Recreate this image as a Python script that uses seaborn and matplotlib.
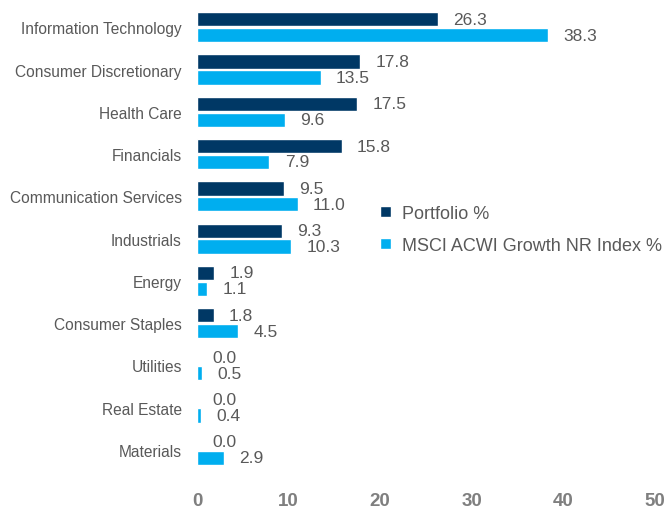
import pandas as pd
import seaborn as sns
import matplotlib.pyplot as plt

# sector weights
sectors = ['Information Technology', 'Consumer Discretionary', 'Health Care', 'Financials',
           'Communication Services', 'Industrials', 'Energy', 'Consumer Staples',
           'Utilities', 'Real Estate', 'Materials']
portfolio = [26.3, 17.8, 17.5, 15.8, 9.5, 9.3, 1.9, 1.8, 0.0, 0.0, 0.0]
index_wts = [38.3, 13.5, 9.6, 7.9, 11.0, 10.3, 1.1, 4.5, 0.5, 0.4, 2.9]
series = ['Portfolio %', 'MSCI ACWI Growth NR Index %']
x_ticks = [0, 10, 20, 30, 40, 50]

df = pd.DataFrame({
    'sector': sectors * 2,
    'value': portfolio + index_wts,
    'series': [series[0]] * len(sectors) + [series[1]] * len(sectors),
})

sns.set_style('white')
plt.rcParams['font.family'] = ['Liberation Sans Narrow', 'Liberation Sans', 'DejaVu Sans']

fig = plt.figure(figsize=(6.69, 5.10), dpi=100)
ax = fig.add_axes([0.2945, 0.0745, 0.6845, 0.9115])

sns.barplot(data=df, y='sector', x='value', hue='series', orient='h',
            palette=['#003865', '#00AEEF'], saturation=1, width=0.75, gap=0.1, ax=ax)

# value labels next to each bar
for cont in ax.containers:
    ax.bar_label(cont, fmt='%.1f', padding=11, fontsize=12.5, color='#595959')

ax.set_xlim(0, 50)
ax.set_xticks(x_ticks)
ax.set_xticklabels([str(t) for t in x_ticks], fontsize=13.5, fontweight='bold', color='#7f7f7f')
ax.tick_params(axis='x', length=0, pad=15)
ax.tick_params(axis='y', length=0, pad=11, labelsize=11.2, labelcolor='#595959')
ax.set_xlabel('')
ax.set_ylabel('')
sns.despine(left=True, bottom=True)

ax.legend(loc='center left', bbox_to_anchor=(0.365, 0.52), frameon=False,
          fontsize=13, labelcolor='#595959', handlelength=0.6, handleheight=0.6,
          handletextpad=0.6, labelspacing=0.85)

plt.savefig('out.png', dpi=100)
